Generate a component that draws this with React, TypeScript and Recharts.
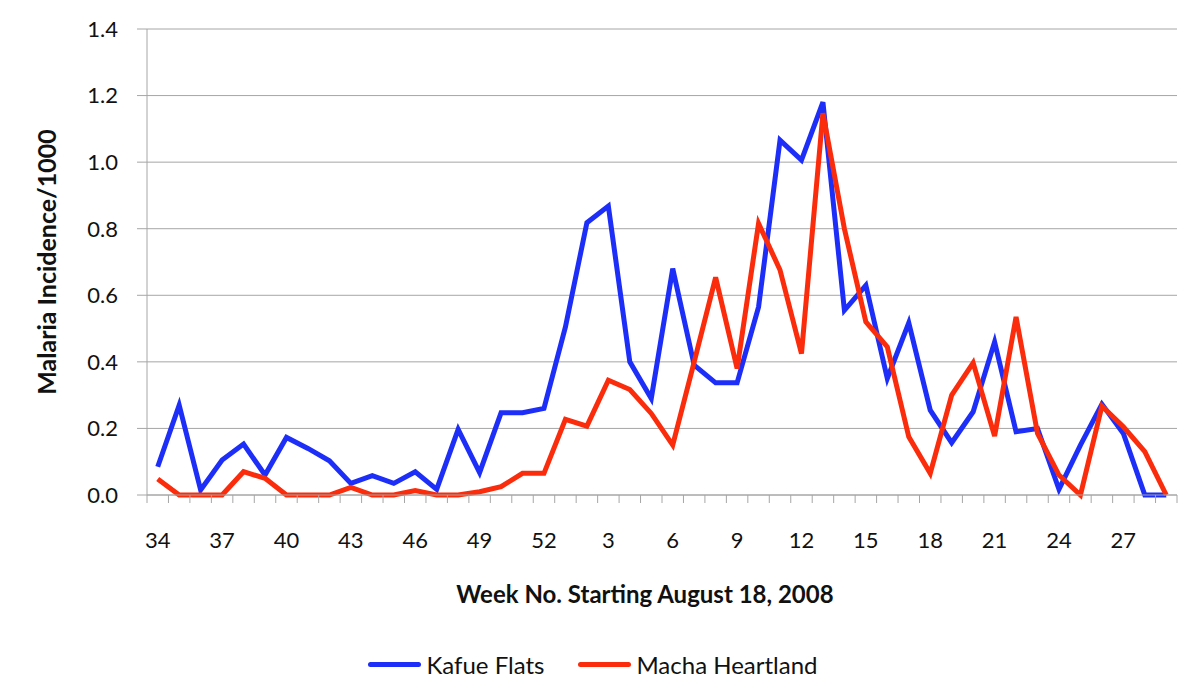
import React from 'react';
import { LineChart, Line, XAxis, YAxis, CartesianGrid, Legend } from 'recharts';

const weeks = [
  34, 35, 36, 37, 38, 39, 40, 41, 42, 43, 44, 45, 46, 47, 48, 49, 50, 51, 52,
  1, 2, 3, 4, 5, 6, 7, 8, 9, 10, 11, 12, 13, 14, 15, 16, 17, 18, 19, 20, 21, 22, 23, 24, 25, 26, 27, 28, 29,
];

const kafueFlats = [
  0.085, 0.27, 0.015, 0.105, 0.153, 0.06, 0.173, 0.14, 0.103, 0.035, 0.058, 0.035, 0.07, 0.017, 0.197, 0.067, 0.247, 0.247, 0.26,
  0.505, 0.818, 0.868, 0.4, 0.29, 0.68, 0.39, 0.337, 0.337, 0.565, 1.066, 1.006, 1.18, 0.555, 0.63, 0.35, 0.517, 0.255, 0.157,
  0.25, 0.46, 0.19, 0.2, 0.017, 0.15, 0.273, 0.185, 0, 0,
];

const machaHeartland = [
  0.048, 0, 0, 0, 0.07, 0.05, 0, 0, 0, 0.023, 0, 0, 0.013, 0, 0, 0.01, 0.025, 0.065, 0.065,
  0.227, 0.207, 0.345, 0.317, 0.245, 0.15, 0.4, 0.654, 0.38, 0.816, 0.676, 0.425, 1.147, 0.8, 0.52, 0.445, 0.175, 0.065, 0.3,
  0.397, 0.177, 0.535, 0.185, 0.06, 0, 0.267, 0.205, 0.13, 0,
];

const yTicks = [0, 0.2, 0.4, 0.6, 0.8, 1.0, 1.2, 1.4];

const data = weeks.map((w, i) => ({
  week: w,
  kafue: kafueFlats[i],
  macha: machaHeartland[i],
}));

const FONT = 'Lato, "Open Sans", sans-serif';
const BLUE = '#1c2ef7';
const RED = '#fb2c0c';
const GRID = '#a6a6a6';
const PLOT_W = 1030;
const HALF_BAND = PLOT_W / weeks.length / 2;

const WeekTick = (props: any) => {
  const { x, y, index, payload } = props;
  const last = index === weeks.length - 1;
  return (
    <g>
      <line x1={x - HALF_BAND} x2={x - HALF_BAND} y1={y} y2={y + 8} stroke={GRID} />
      {last && <line x1={x + HALF_BAND} x2={x + HALF_BAND} y1={y} y2={y + 8} stroke={GRID} />}
      {index % 3 === 0 && (
        <text x={x} y={y + 53} textAnchor="middle" fontSize={22} fill="#111" fontFamily={FONT}>
          {payload.value}
        </text>
      )}
    </g>
  );
};

const LegendContent = (props: any) => {
  const { payload } = props;
  return (
    <div style={{ display: 'flex', justifyContent: 'center', alignItems: 'center', fontFamily: FONT, fontSize: 24, color: '#111', paddingRight: 14 }}>
      {payload.map((p: any) => (
        <div key={p.value} style={{ display: 'flex', alignItems: 'center', margin: '0 17px' }}>
          <div style={{ width: 53, height: 5, borderRadius: 3, background: p.color, marginRight: 5 }} />
          <span>{p.value}</span>
        </div>
      ))}
    </div>
  );
};

export default function App() {
  return (
    <div style={{ position: 'absolute', left: 0, top: 0, width: 1200, height: 696, background: '#fff' }}>
      <LineChart width={1200} height={696} data={data} margin={{ top: 29, right: 23, bottom: 51, left: 20 }}>
        <CartesianGrid vertical={false} stroke={GRID} />
        <XAxis
          dataKey="week"
          scale="band"
          interval={0}
          stroke={GRID}
          tickLine={false}
          tickSize={0}
          tickMargin={0}
          height={120}
          tick={<WeekTick />}
          label={({ viewBox }: any) => (
            <text
              x={viewBox.x + viewBox.width / 2 - 17}
              y={viewBox.y + 108}
              textAnchor="middle"
              fontSize={24}
              fontWeight="bold"
              fill="#111"
              fontFamily={FONT}
            >
              Week No. Starting August 18, 2008
            </text>
          )}
        />
        <YAxis
          width={127}
          domain={[0, 1.4]}
          ticks={yTicks}
          stroke={GRID}
          tickSize={10}
          tickMargin={19}
          tickFormatter={(v: number) => v.toFixed(1)}
          tick={{ fontSize: 22, fill: '#111', fontFamily: FONT }}
          label={({ viewBox }: any) => (
            <text
              x={viewBox.x + 30}
              y={viewBox.y + viewBox.height / 2}
              transform={`rotate(-90, ${viewBox.x + 30}, ${viewBox.y + viewBox.height / 2})`}
              textAnchor="middle"
              dominantBaseline="middle"
              fontSize={25}
              fontWeight="bold"
              fill="#111"
              fontFamily={FONT}
            >
              Malaria Incidence/1000
            </text>
          )}
        />
        <Legend
          verticalAlign="bottom"
          content={<LegendContent />}
          wrapperStyle={{ top: 650, left: 0, width: 1200, height: 30 }}
        />
        <Line name="Kafue Flats" dataKey="kafue" stroke={BLUE} strokeWidth={5} dot={false} isAnimationActive={false} />
        <Line name="Macha Heartland" dataKey="macha" stroke={RED} strokeWidth={5} dot={false} isAnimationActive={false} />
      </LineChart>
    </div>
  );
}
